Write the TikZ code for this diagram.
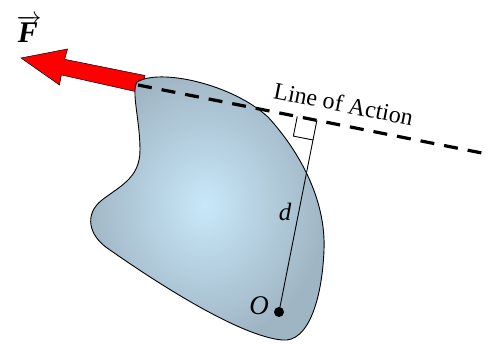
\documentclass[tikz,border=0pt]{standalone}
\usepackage{fontspec}
\setmainfont{Liberation Serif}
\usetikzlibrary{calc}
\begin{document}
\begin{tikzpicture}[x=1pt,y=-1pt,
  bodyfill/.style={draw=black,line width=0.9pt,inner color={rgb,255:red,200;green,232;blue,249},outer color={rgb,255:red,160;green,181;blue,196}},
  forcearrow/.style={fill={rgb,255:red,255;green,0;blue,0},draw=black,line width=0.5pt},
  actionline/.style={line width=3.2pt,dash pattern=on 14pt off 10pt},
  thinline/.style={line width=0.9pt},
  lbl/.style={inner sep=0pt}]
\useasboundingbox (0,0) rectangle (497,343);
% coordinates
\coordinate (La) at (138,85);
\coordinate (Lb) at (487,154);
\coordinate (O) at (279,312);
\coordinate (ft) at ($(La)!(O)!(Lb)$);
% force arrow (behind body)
\draw[forcearrow] (145,75.5) -- (64.7,59.3) -- (67.5,49) -- (21,58) -- (59.5,85) -- (61.3,74.9) -- (142,93) -- cycle;
% body
\path[bodyfill] (137,82) .. controls (160,68) and (232,84) .. (268,117)
  .. controls (300,152) and (326,200) .. (324,250)
  .. controls (322,300) and (308,343) .. (282,340)
  .. controls (240,336) and (160,285) .. (110,250)
  .. controls (88,236) and (84,214) .. (102,200)
  .. controls (120,186) and (140,178) .. (140,150)
  .. controls (140,120) and (131,92) .. (137,82) -- cycle;
% line of action
\draw[actionline] (La) -- (Lb);
% perpendicular distance
\draw[thinline] (O) -- (ft);
\coordinate (p1) at ($(ft)!20pt!(La)$);
\coordinate (p3) at ($(ft)!20pt!(O)$);
\draw[thinline] (p1) -- ($(p1)+(p3)-(ft)$) -- (p3);
\fill (O) circle (5pt);
% labels
\node[lbl,anchor=base,rotate=-11.2,font=\fontsize{24}{26}\selectfont] (loa) at (342,112) {Line of Action};
\node[lbl,font=\fontsize{25}{27}\selectfont\itshape] (dl) at (285,212) {d};
\node[lbl,font=\fontsize{27}{29}\selectfont\itshape] (ol) at (259,306) {O};
\node[lbl,font=\fontsize{30}{32}\selectfont] (fl) at (29,29) {$\overrightarrow{\hbox{\bfseries\itshape F\kern2pt}}$};
\end{tikzpicture}
\end{document}
